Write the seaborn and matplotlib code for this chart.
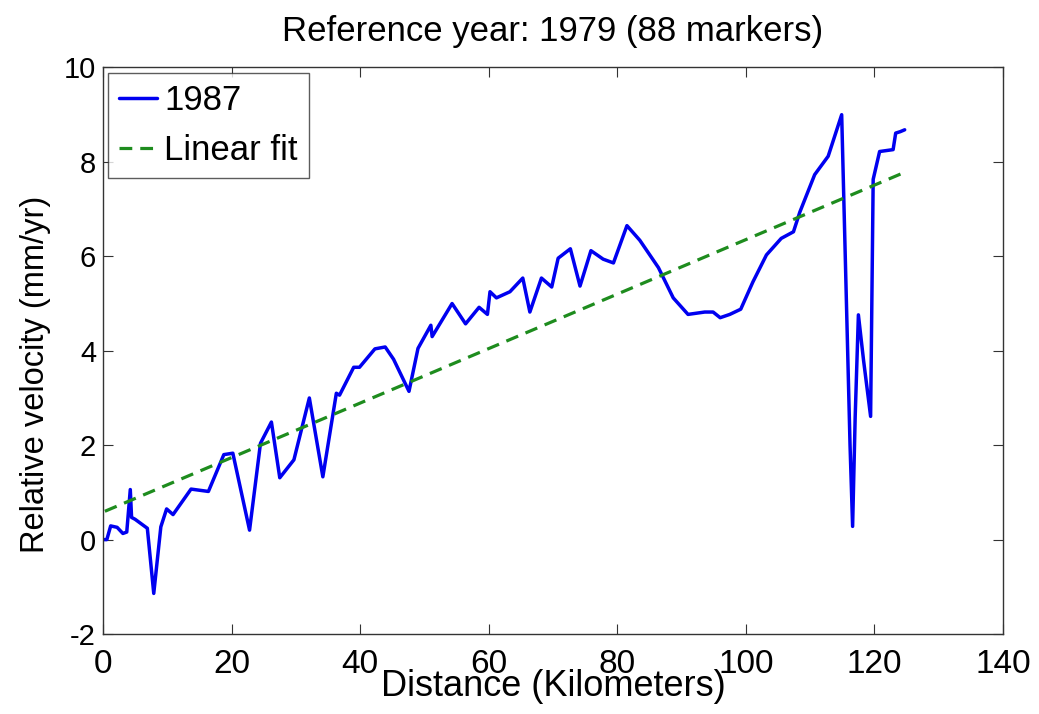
import matplotlib
matplotlib.use("Agg")
import matplotlib.pyplot as plt
import seaborn as sns
import pandas as pd

# Data
distance_km = [0.0, 0.6, 1.2, 2.2, 3.1, 3.7, 4.25, 4.45, 5.0, 6.9, 7.9, 9.0, 9.9, 10.9,
               13.7, 16.4, 18.8, 20.2, 22.8, 24.5, 26.2, 27.5, 29.7, 32.1, 34.2, 36.3,
               36.8, 39.0, 39.9, 42.3, 43.9, 45.2, 47.6, 49.0, 51.0, 51.2, 54.3, 56.4,
               58.5, 59.8, 60.2, 61.2, 63.3, 65.3, 66.4, 68.2, 69.8, 70.8, 72.7, 74.2,
               75.9, 77.8, 79.4, 81.5, 83.5, 86.4, 88.7, 91.0, 93.6, 94.9, 96.0, 97.5,
               99.2, 101.1, 103.2, 105.5, 107.4, 108.4, 110.7, 112.8, 114.9, 116.2,
               116.6, 117.0, 117.5, 118.3, 119.4, 119.8, 120.8, 122.9, 123.3, 124.0, 124.7]
velocity_1987 = [0.0, 0.0, 0.29, 0.26, 0.13, 0.16, 1.06, 0.47, 0.43, 0.24, -1.14, 0.27, 0.65, 0.53,
                 1.07, 1.02, 1.80, 1.83, 0.20, 2.04, 2.49, 1.31, 1.69, 3.00, 1.33, 3.10,
                 3.06, 3.65, 3.65, 4.04, 4.08, 3.82, 3.14, 4.05, 4.54, 4.30, 5.00, 4.57,
                 4.92, 4.77, 5.25, 5.12, 5.25, 5.54, 4.82, 5.54, 5.35, 5.96, 6.16, 5.37,
                 6.12, 5.94, 5.86, 6.65, 6.34, 5.76, 5.12, 4.77, 4.82, 4.82, 4.70, 4.77,
                 4.88, 5.46, 6.03, 6.38, 6.52, 6.94, 7.73, 8.12, 9.00, 2.00,
                 0.28, 2.60, 4.76, 3.80, 2.61, 7.63, 8.22, 8.26, 8.61, 8.64, 8.68]
fit_x = [0.3, 124.7]
fit_y = [0.60, 7.78]

x_ticks = [0, 20, 40, 60, 80, 100, 120, 140]
y_ticks = [-2, 0, 2, 4, 6, 8, 10]

sns.set_style("white")
plt.rcParams['font.family'] = ['Liberation Sans', 'DejaVu Sans']
plt.rcParams['text.color'] = 'black'
plt.rcParams['axes.labelcolor'] = 'black'

fig = plt.figure(figsize=(10.39, 7.14), dpi=100)
ax = fig.add_axes([0.0991, 0.112, 0.8663, 0.7935])

df = pd.DataFrame({"Distance": distance_km, "Velocity": velocity_1987})
fit_df = pd.DataFrame({"Distance": fit_x, "Velocity": fit_y})

sns.lineplot(data=df, x="Distance", y="Velocity", ax=ax, color="#0000F0",
             linewidth=2.5, estimator=None, label="1987")
sns.lineplot(data=fit_df, x="Distance", y="Velocity", ax=ax, color="#1E8C1E",
             linewidth=2.3, linestyle=(0, (4, 2.5)), estimator=None, label="Linear fit")

ax.set_xlim(0, 140)
ax.set_ylim(-2, 10)
ax.set_xticks(x_ticks)
ax.set_yticks(y_ticks)
ax.set_yticklabels([str(v) for v in y_ticks], fontsize=21, color='black')
ax.set_xticklabels([str(v) for v in x_ticks], fontsize=24, color='black')
ax.tick_params(direction='in', length=7, width=0.8, top=True, right=True,
               bottom=True, left=True, colors='#333333', labelcolor='black')
ax.tick_params(axis='x', pad=11)
ax.tick_params(axis='y', pad=5)
for s in ax.spines.values():
    s.set_color('#333333')
    s.set_linewidth(1.0)

ax.set_xlabel("Distance (Kilometers)", fontsize=26, color='black')
ax.xaxis.set_label_coords(0.5, -0.062)
ax.set_ylabel("Relative velocity (mm/yr)", fontsize=23.5, color='black')
ax.yaxis.set_label_coords(-0.058, 0.4576)
ax.set_title("Reference year: 1979 (88 markers)", fontsize=25, pad=19, color='black')

leg = ax.legend(loc='upper left', fontsize=25, frameon=True, fancybox=False,
                handlelength=1.1, handletextpad=0.2, borderpad=0.32,
                labelspacing=0.5, borderaxespad=0.15)
leg.get_frame().set_edgecolor('#333333')
leg.get_frame().set_linewidth(1.0)
for t in leg.get_texts():
    t.set_color('black')

fig.savefig("out.png", dpi=100, facecolor='white')
